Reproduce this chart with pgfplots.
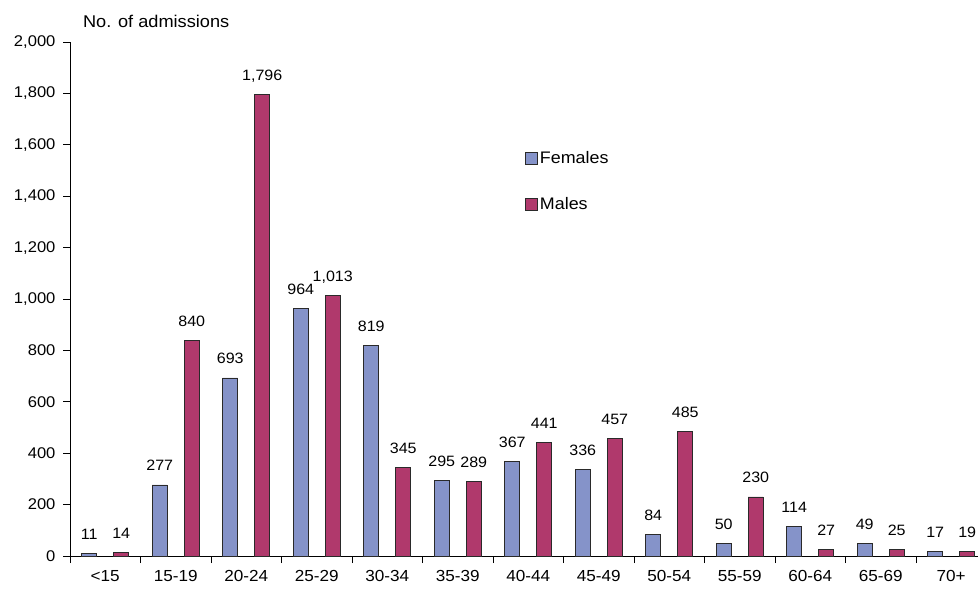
\documentclass[border=0pt]{standalone}
\usepackage{fontspec}
\setmainfont{Liberation Sans}[FakeStretch=1.07]
\usepackage{pgfplots}
\pgfplotsset{compat=1.18}

\definecolor{femfill}{HTML}{8593C9}
\definecolor{malefill}{HTML}{B0396C}
\definecolor{edgegray}{HTML}{2A2A2A}

\begin{document}
\begin{tikzpicture}
\begin{axis}[
  name=ax,
  scale only axis,
  width=908pt, height=514pt,
  xmin=-0.5, xmax=12.38,
  ymin=0, ymax=2000,
  axis x line=bottom, axis y line=left,
  axis line style={-, black, line width=0.8pt},
  clip=false,
  font=\fontsize{15.5}{18}\selectfont,
  /pgf/number format/assume math mode=true,
  /pgf/number format/1000 sep={,},
  ytick={0,200,...,2000},
  tick align=outside,
  major tick length=7pt,
  tick style={black, line width=0.8pt},
  xtick={0,...,12},
  xticklabels={<15,15-19,20-24,25-29,30-34,35-39,40-44,45-49,50-54,55-59,60-64,65-69,70+},
  x tick style={draw=none},
  minor xtick={-0.5,0.5,...,11.5},
  minor x tick style={draw=black},
  minor tick length=7pt,
  xticklabel style={yshift=-4pt, font=\fontsize{16}{19}\selectfont},
  yticklabel style={xshift=-4pt},
  ybar, bar width=15pt,
  nodes near coords,
  every node near coord/.append style={anchor=base, yshift=14pt, font=\fontsize{15}{18}\selectfont},
  legend style={at={(0.498,0.795)}, anchor=north west, draw=none, fill=none,
    font=\fontsize{16.7}{19}\selectfont, row sep=28pt,
    legend cell align=left},
  legend image code/.code={\draw[#1] (0pt,-6pt) rectangle (12pt,6pt);},
]
\addplot[bar shift=-16pt, fill=femfill, draw=edgegray, line width=0.6pt]
  coordinates {(0,11) (1,277) (2,693) (3,964) (4,819) (5,295) (6,367) (7,336) (8,84) (9,50) (10,114) (11,49) (12,17)};
\addlegendentry{Females}
\addplot[bar shift=16pt, fill=malefill, draw=edgegray, line width=0.6pt]
  coordinates {(0,14) (1,840) (2,1796) (3,1013) (4,345) (5,289) (6,441) (7,457) (8,485) (9,230) (10,27) (11,25) (12,19)};
\addlegendentry{Males}
\node[anchor=base west, font=\fontsize{17}{20}\selectfont] at ([xshift=9.5pt, yshift=14pt]rel axis cs:0,1) {No. of admissions};
\end{axis}
\pgfresetboundingbox
\path ([shift={(-70pt,-33pt)}]ax.south west) rectangle ([shift={(0pt,42pt)}]ax.north east);
\end{tikzpicture}
\end{document}
